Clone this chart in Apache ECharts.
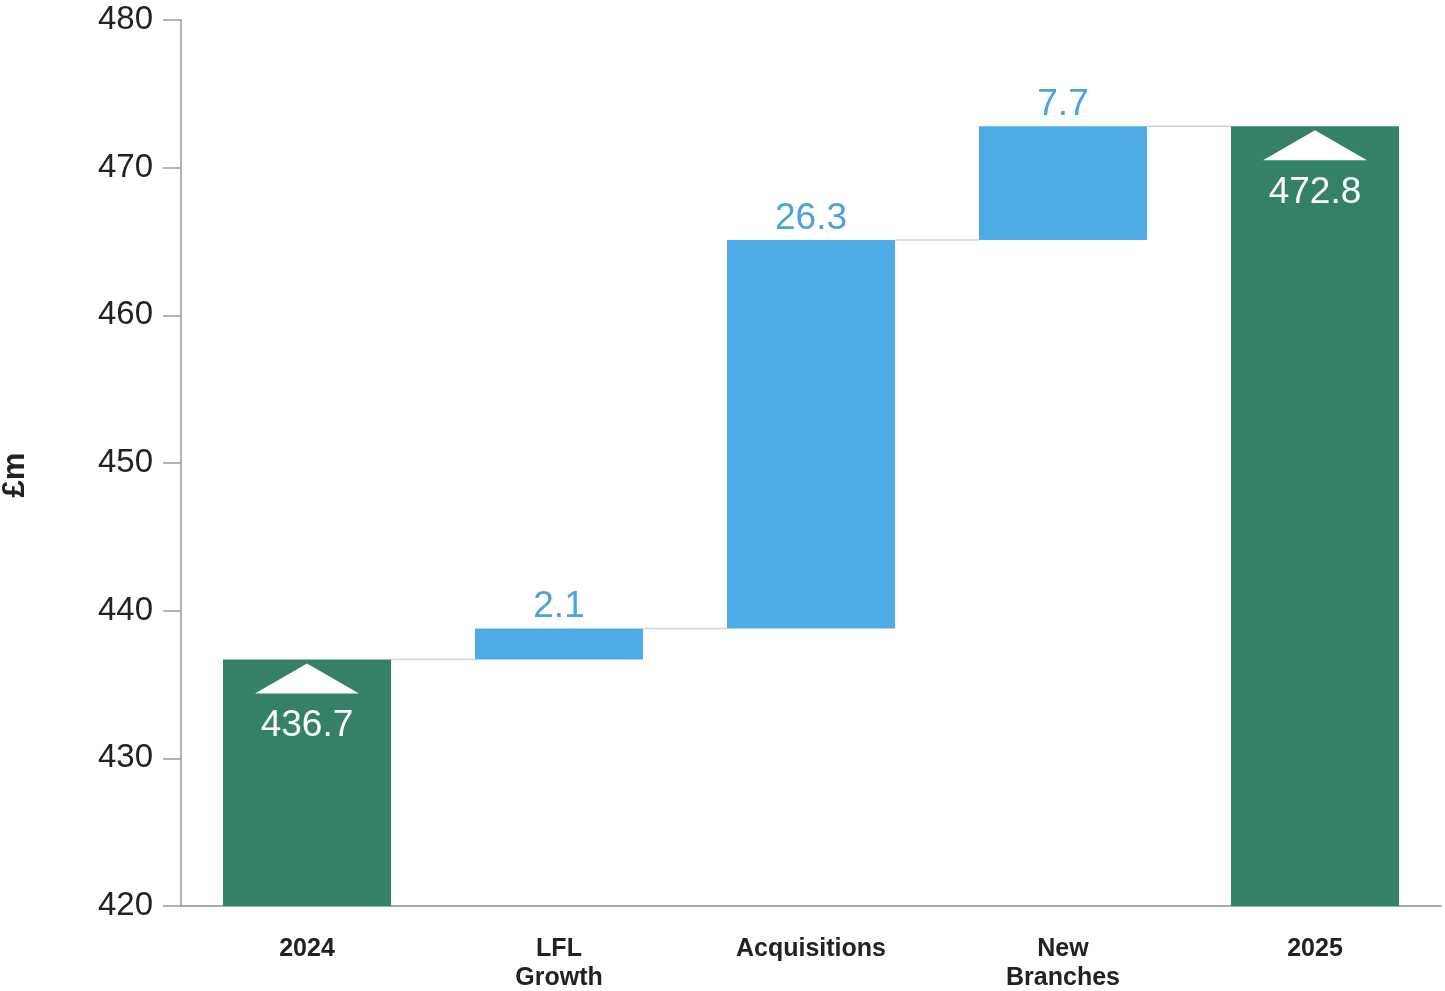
<!DOCTYPE html>
<html>
<head>
<meta charset="utf-8">
<script src="https://cdn.jsdelivr.net/npm/echarts@6/dist/echarts.min.js"></script>
<style>
html,body{margin:0;padding:0;background:#fff;}
#c{width:1445px;height:991px;}
</style>
</head>
<body>
<div id="c"></div>
<script>
const categories = ['2024', 'LFL\nGrowth', 'Acquisitions', 'New\nBranches', '2025'];
const startValue = 436.7;
const changes = [2.1, 26.3, 7.7];
const endValue = 472.8;
const yTicks = [420, 430, 440, 450, 460, 470, 480];

const GREEN = '#358069';
const BLUE = '#4eabe6';
const LABEL_BLUE = '#4aa3df';

// derived waterfall pieces
const totals = [startValue, '-', '-', '-', endValue];
const base = ['-'];
const inc = ['-'];
const levels = [startValue];
let run = startValue;
changes.forEach(c => { base.push(run); inc.push(c); run = +(run + c).toFixed(1); levels.push(run); });
base.push('-'); inc.push('-');
const connectors = levels.map((v, i) => [i, v]);

const chart = echarts.init(document.getElementById('c'));
const font = 'Liberation Sans, Arial, sans-serif';

chart.setOption({
  animation: false,
  grid: { left: 181, right: 4, top: 20, bottom: 85, containLabel: false, outerBoundsMode: 'none' },
  xAxis: {
    type: 'category',
    data: categories,
    axisLine: { lineStyle: { color: '#8a8a8a', width: 1.5 } },
    axisTick: { show: false },
    axisLabel: { color: '#222', fontFamily: font, fontSize: 25, fontWeight: 'bold', margin: 29, lineHeight: 29 }
  },
  yAxis: {
    type: 'value',
    min: yTicks[0],
    max: yTicks[yTicks.length - 1],
    interval: 10,
    name: '£m',
    nameLocation: 'middle',
    nameGap: 150,
    nameTextStyle: { color: '#222', fontFamily: font, fontSize: 31, fontWeight: 'bold', padding: [0, 24, 0, 0] },
    axisLine: { show: true, lineStyle: { color: '#9a9a9a', width: 1.5 } },
    axisTick: { show: true, length: 18, lineStyle: { color: '#9a9a9a', width: 1.5 } },
    splitLine: { show: false },
    axisLabel: { color: '#222', fontFamily: font, fontSize: 33, margin: 28 }
  },
  series: [
    {
      type: 'custom',
      renderItem: function (params, api) {
        const i = api.value(0);
        const lv = api.value(1);
        if (i >= categories.length - 1) return null;
        const p1 = api.coord([i, lv]);
        const p2 = api.coord([i + 1, lv]);
        const bw = api.size([1, 0])[0];
        return {
          type: 'line',
          shape: { x1: p1[0] + bw / 3, y1: p1[1], x2: p2[0] - bw / 3, y2: p2[1] },
          style: { stroke: '#d4d4d4', lineWidth: 1.5 }
        };
      },
      data: connectors,
      z: 1
    },
    {
      type: 'bar',
      stack: 'w',
      data: base,
      barWidth: '66.7%',
      itemStyle: { color: 'transparent' },
      silent: true
    },
    {
      type: 'bar',
      stack: 'w',
      data: inc,
      barWidth: '66.7%',
      itemStyle: { color: BLUE },
      label: {
        show: true, position: 'top', distance: 3,
        color: LABEL_BLUE, fontFamily: font, fontSize: 37,
        formatter: p => p.value.toFixed(1)
      }
    },
    {
      type: 'bar',
      stack: 'w',
      data: totals,
      barWidth: '66.7%',
      itemStyle: { color: GREEN },
      label: {
        show: true, position: 'insideTop', distance: 48,
        color: '#ffffff', fontFamily: font, fontSize: 37,
        formatter: p => p.value.toFixed(1)
      },
      markPoint: {
        symbol: 'triangle',
        symbolSize: [104, 30],
        symbolOffset: [0, 19],
        itemStyle: { color: '#ffffff' },
        label: { show: false },
        silent: true,
        data: [
          { coord: [0, startValue] },
          { coord: [4, endValue] }
        ]
      }
    }
  ]
});
</script>
</body>
</html>
